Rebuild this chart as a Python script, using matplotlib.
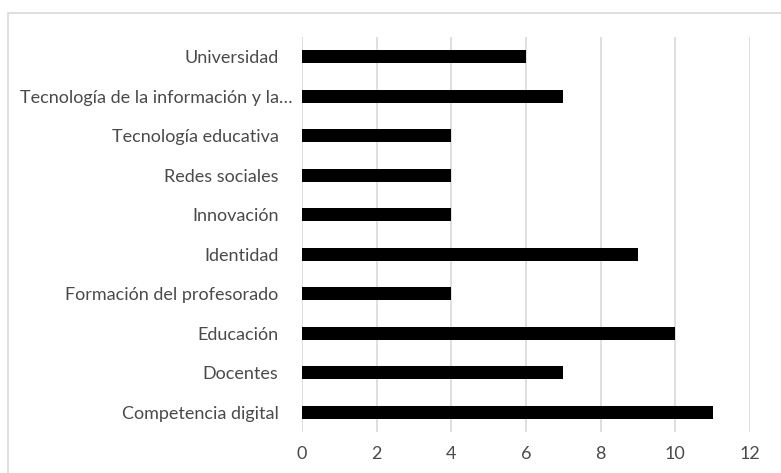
import matplotlib.pyplot as plt
import matplotlib.transforms as mtransforms
from matplotlib.patches import Rectangle

categories = ["Competencia digital", "Docentes", "Educación", "Formación del profesorado",
              "Identidad", "Innovación", "Redes sociales", "Tecnología educativa",
              "Tecnología de la información y la…", "Universidad"]
values = [11, 7, 10, 4, 9, 4, 4, 4, 7, 6]
xticks = [0, 2, 4, 6, 8, 10, 12]

plt.rcParams['font.family'] = ['Lato', 'DejaVu Sans']

W, H = 781, 473
fig = plt.figure(figsize=(W / 100, H / 100), dpi=100)
ax = fig.add_axes([302 / W, 1 - 432 / H, (750 - 302) / W, (432 - 37) / H])

# outer chart frame (light grey)
fig.patches.append(Rectangle((8 / W, -0.1), 1.2, 1 - 13 / H + 0.1, transform=fig.transFigure,
                             fill=False, edgecolor='#d9d9d9', linewidth=1.2))

ax.barh(range(len(categories)), values, height=0.33, color='black', zorder=3)
ax.set_xlim(0, 12)
ax.set_ylim(-0.5, len(categories) - 0.5)
ax.set_xticks(xticks)
ax.set_yticks(range(len(categories)))
ax.set_yticklabels(categories)
ax.grid(axis='x', color='#d9d9d9', linewidth=1.2, zorder=0)
for s in ax.spines.values():
    s.set_visible(False)
ax.tick_params(length=0, labelsize=13, colors='#4a4a4a')
ax.tick_params(axis='x', pad=10)
ax.tick_params(axis='y', pad=17)

# the truncated label sits closer to the bars, like in the original
for lab in ax.get_yticklabels():
    if lab.get_text().endswith('…'):
        lab.set_transform(lab.get_transform() +
                          mtransforms.ScaledTranslation(0.14, 0, fig.dpi_scale_trans))

fig.savefig('out.png', dpi=100)
